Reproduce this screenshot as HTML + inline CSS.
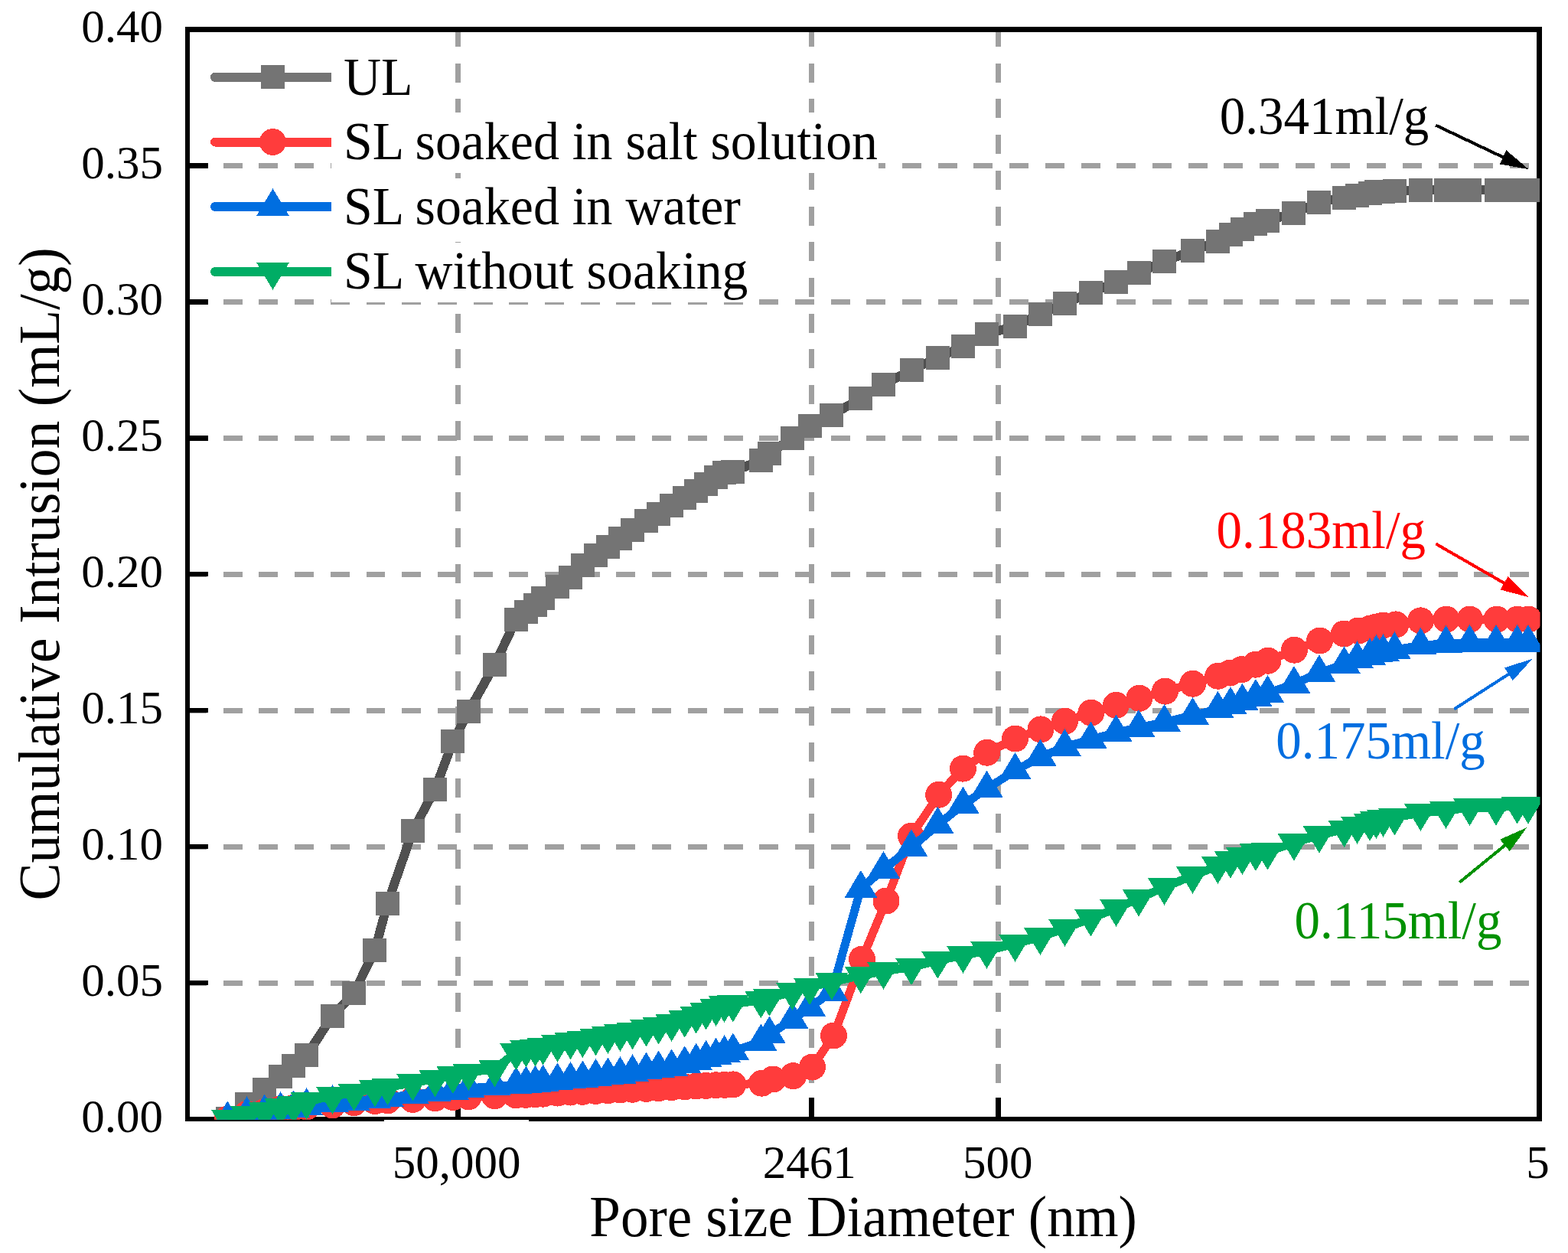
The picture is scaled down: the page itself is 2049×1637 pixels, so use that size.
<!DOCTYPE html>
<html><head><meta charset="utf-8"><title>Cumulative Intrusion vs Pore size Diameter</title>
<style>html,body{margin:0;padding:0;background:#fff;}body{width:2049px;height:1637px;overflow:hidden;}svg{display:block;}text{font-family:'Liberation Serif', 'Times New Roman', serif;}</style>
</head><body>
<svg width="2049" height="1637" viewBox="0 0 2049 1637" shape-rendering="crispEdges">
<defs><clipPath id="pc"><rect x="245" y="38.5" width="1767.5" height="1424.3"/></clipPath></defs>
<rect x="0" y="0" width="2049" height="1637" fill="#fff"/>
<g stroke="#a0a0a0" stroke-width="6.8" stroke-dasharray="25 21.7" fill="none">
<line x1="245" y1="1284.1" x2="2011.5" y2="1284.1"/>
<line x1="245" y1="1106.1" x2="2011.5" y2="1106.1"/>
<line x1="245" y1="928.2" x2="2011.5" y2="928.2"/>
<line x1="245" y1="750.2" x2="2011.5" y2="750.2"/>
<line x1="245" y1="572.3" x2="2011.5" y2="572.3"/>
<line x1="245" y1="394.4" x2="2011.5" y2="394.4"/>
<line x1="245" y1="216.4" x2="2011.5" y2="216.4"/>
<line x1="598.3" y1="1462" x2="598.3" y2="38.5"/>
<line x1="1060.4" y1="1462" x2="1060.4" y2="38.5"/>
<line x1="1304.6" y1="1462" x2="1304.6" y2="38.5"/>
</g>
<g fill="#fff">
<rect x="433" y="63.6" width="108" height="78.5"/>
<rect x="433" y="147.3" width="715" height="78.5"/>
<rect x="433" y="232.8" width="535" height="78.5"/>
<rect x="433" y="316.6" width="544" height="78.5"/>
</g>
<rect x="245" y="38.5" width="1766.5" height="1423.5" fill="none" stroke="#000" stroke-width="6.5"/>
<g stroke="#000" stroke-width="6.5">
<line x1="245" y1="1284.1" x2="272" y2="1284.1"/>
<line x1="245" y1="1106.1" x2="272" y2="1106.1"/>
<line x1="245" y1="928.2" x2="272" y2="928.2"/>
<line x1="245" y1="750.2" x2="272" y2="750.2"/>
<line x1="245" y1="572.3" x2="272" y2="572.3"/>
<line x1="245" y1="394.4" x2="272" y2="394.4"/>
<line x1="245" y1="216.4" x2="272" y2="216.4"/>
</g>
<g stroke="#000" stroke-width="7">
<line x1="598.3" y1="1462" x2="598.3" y2="1434"/>
<line x1="1060.4" y1="1462" x2="1060.4" y2="1434"/>
<line x1="1304.6" y1="1462" x2="1304.6" y2="1434"/>
</g>
<rect x="502" y="1463" width="189" height="8" fill="#fff"/>
<g clip-path="url(#pc)">
<polyline points="297.3,1461.3 322.5,1442.5 345.6,1423.5 366.6,1406.9 383.7,1392 400.6,1378.8 434.5,1327.5 462.6,1297.2 489.9,1241.5 506.5,1180 539.5,1085.3 568.5,1031.2 591.9,968.9 612.3,929.5 646.5,868.4 674.4,809.4 687.4,799.3 699.5,790.6 709.6,781.6 728.5,766.4 745.5,754.5 761.4,738.5 778.5,725.5 794.4,714.5 810.4,703.5 826.5,692.5 844.5,680.4 860.6,671.4 877.6,660.4 894.7,650.4 909.7,641.6 922.6,632.6 935.6,623.6 946.6,617.5 957.8,616.5 994.4,601 1005.4,592.4 1035.4,572.3 1058,556.4 1086.9,542.4 1124.9,520.5 1154.5,502 1191,483.5 1225.4,467.4 1258.5,452.5 1289.5,436 1326.5,426.5 1359.4,410.4 1391.5,396.5 1425.4,382.3 1458.5,368.5 1488,356.5 1521.5,341.4 1558.5,327.4 1591.4,315.5 1608,306.5 1623.4,299.5 1640.9,292.5 1656.5,288.4 1690.9,278.4 1723.9,264.4 1756.6,258.1 1773.5,255.4 1790,252.4 1798.4,250.4 1807.5,250.2 1822.4,249.9 1856.4,248.4 1889.5,248.4 1920.5,248.4 1955,248.4 1982.6,248.4 1996.9,248.4" fill="none" stroke="#505050" stroke-width="12" stroke-linejoin="round"/>
<g fill="#747474"><rect x="281.8" y="1445.8" width="31" height="31"/><rect x="307" y="1427" width="31" height="31"/><rect x="330.1" y="1408" width="31" height="31"/><rect x="351.1" y="1391.4" width="31" height="31"/><rect x="368.2" y="1376.5" width="31" height="31"/><rect x="385.1" y="1363.3" width="31" height="31"/><rect x="419" y="1312" width="31" height="31"/><rect x="447.1" y="1281.7" width="31" height="31"/><rect x="474.4" y="1226" width="31" height="31"/><rect x="491" y="1164.5" width="31" height="31"/><rect x="524" y="1069.8" width="31" height="31"/><rect x="553" y="1015.7" width="31" height="31"/><rect x="576.4" y="953.4" width="31" height="31"/><rect x="596.8" y="914" width="31" height="31"/><rect x="631" y="852.9" width="31" height="31"/><rect x="658.9" y="793.9" width="31" height="31"/><rect x="671.9" y="783.8" width="31" height="31"/><rect x="684" y="775.1" width="31" height="31"/><rect x="694.1" y="766.1" width="31" height="31"/><rect x="713" y="750.9" width="31" height="31"/><rect x="730" y="739" width="31" height="31"/><rect x="745.9" y="723" width="31" height="31"/><rect x="763" y="710" width="31" height="31"/><rect x="778.9" y="699" width="31" height="31"/><rect x="794.9" y="688" width="31" height="31"/><rect x="811" y="677" width="31" height="31"/><rect x="829" y="664.9" width="31" height="31"/><rect x="845.1" y="655.9" width="31" height="31"/><rect x="862.1" y="644.9" width="31" height="31"/><rect x="879.2" y="634.9" width="31" height="31"/><rect x="894.2" y="626.1" width="31" height="31"/><rect x="907.1" y="617.1" width="31" height="31"/><rect x="920.1" y="608.1" width="31" height="31"/><rect x="931.1" y="602" width="31" height="31"/><rect x="942.3" y="601" width="31" height="31"/><rect x="978.9" y="585.5" width="31" height="31"/><rect x="989.9" y="576.9" width="31" height="31"/><rect x="1019.9" y="556.8" width="31" height="31"/><rect x="1042.5" y="540.9" width="31" height="31"/><rect x="1071.4" y="526.9" width="31" height="31"/><rect x="1109.4" y="505" width="31" height="31"/><rect x="1139" y="486.5" width="31" height="31"/><rect x="1175.5" y="468" width="31" height="31"/><rect x="1209.9" y="451.9" width="31" height="31"/><rect x="1243" y="437" width="31" height="31"/><rect x="1274" y="420.5" width="31" height="31"/><rect x="1311" y="411" width="31" height="31"/><rect x="1343.9" y="394.9" width="31" height="31"/><rect x="1376" y="381" width="31" height="31"/><rect x="1409.9" y="366.8" width="31" height="31"/><rect x="1443" y="353" width="31" height="31"/><rect x="1472.5" y="341" width="31" height="31"/><rect x="1506" y="325.9" width="31" height="31"/><rect x="1543" y="311.9" width="31" height="31"/><rect x="1575.9" y="300" width="31" height="31"/><rect x="1592.5" y="291" width="31" height="31"/><rect x="1607.9" y="284" width="31" height="31"/><rect x="1625.4" y="277" width="31" height="31"/><rect x="1641" y="272.9" width="31" height="31"/><rect x="1675.4" y="262.9" width="31" height="31"/><rect x="1708.4" y="248.9" width="31" height="31"/><rect x="1741.1" y="242.6" width="31" height="31"/><rect x="1758" y="239.9" width="31" height="31"/><rect x="1774.5" y="236.9" width="31" height="31"/><rect x="1782.9" y="234.9" width="31" height="31"/><rect x="1792" y="234.7" width="31" height="31"/><rect x="1806.9" y="234.4" width="31" height="31"/><rect x="1840.9" y="232.9" width="31" height="31"/><rect x="1874" y="232.9" width="31" height="31"/><rect x="1905" y="232.9" width="31" height="31"/><rect x="1939.5" y="232.9" width="31" height="31"/><rect x="1967.1" y="232.9" width="31" height="31"/><rect x="1981.4" y="232.9" width="31" height="31"/></g>
<polyline points="297.3,1462 322.5,1455.5 345.6,1452.5 366.6,1448.5 383.7,1447.2 400.6,1446 434.5,1443.9 462.6,1440.6 489.9,1438.5 506.5,1437.8 539.5,1436.5 568.5,1434.8 591.9,1433.6 612.3,1432.8 646.5,1431.6 674.4,1430.8 687.4,1430.3 699.5,1429.7 709.6,1429.2 728.5,1428.1 745.5,1427 761.4,1426.3 778.5,1425.5 794.4,1424.7 810.4,1424 826.5,1423.3 844.5,1422.4 860.6,1421.6 877.6,1420.8 894.7,1419.8 909.7,1419 922.6,1418.4 935.6,1417.8 946.6,1417.3 957.8,1416.9 995.5,1415.2 1010,1410 1036.5,1405.7 1061.5,1394 1089.4,1353 1126.5,1253 1158,1177 1190.5,1092.4 1226.7,1038.2 1258.4,1004.1 1289.7,983.2 1326.6,965 1360,952.9 1391.6,942.2 1425.8,931.2 1458.5,921.3 1488.9,912.3 1522.5,903.1 1558.7,893.2 1591.7,883.2 1607.5,879 1622.7,874.6 1640.5,868.2 1657,863.2 1691.4,849.2 1724.6,837 1756.3,828 1774.7,824.1 1791,820.9 1799.3,818.9 1807.5,817 1824,815.9 1856.5,810.9 1890,809.1 1920.7,809.1 1956,809.1 1982.9,809.1 1997.5,809.1" fill="none" stroke="#ff3c3c" stroke-width="11" stroke-linejoin="round"/>
<g fill="#ff3c3c"><circle cx="297.3" cy="1462" r="17.5"/><circle cx="322.5" cy="1455.5" r="17.5"/><circle cx="345.6" cy="1452.5" r="17.5"/><circle cx="366.6" cy="1448.5" r="17.5"/><circle cx="383.7" cy="1447.2" r="17.5"/><circle cx="400.6" cy="1446" r="17.5"/><circle cx="434.5" cy="1443.9" r="17.5"/><circle cx="462.6" cy="1440.6" r="17.5"/><circle cx="489.9" cy="1438.5" r="17.5"/><circle cx="506.5" cy="1437.8" r="17.5"/><circle cx="539.5" cy="1436.5" r="17.5"/><circle cx="568.5" cy="1434.8" r="17.5"/><circle cx="591.9" cy="1433.6" r="17.5"/><circle cx="612.3" cy="1432.8" r="17.5"/><circle cx="646.5" cy="1431.6" r="17.5"/><circle cx="674.4" cy="1430.8" r="17.5"/><circle cx="687.4" cy="1430.3" r="17.5"/><circle cx="699.5" cy="1429.7" r="17.5"/><circle cx="709.6" cy="1429.2" r="17.5"/><circle cx="728.5" cy="1428.1" r="17.5"/><circle cx="745.5" cy="1427" r="17.5"/><circle cx="761.4" cy="1426.3" r="17.5"/><circle cx="778.5" cy="1425.5" r="17.5"/><circle cx="794.4" cy="1424.7" r="17.5"/><circle cx="810.4" cy="1424" r="17.5"/><circle cx="826.5" cy="1423.3" r="17.5"/><circle cx="844.5" cy="1422.4" r="17.5"/><circle cx="860.6" cy="1421.6" r="17.5"/><circle cx="877.6" cy="1420.8" r="17.5"/><circle cx="894.7" cy="1419.8" r="17.5"/><circle cx="909.7" cy="1419" r="17.5"/><circle cx="922.6" cy="1418.4" r="17.5"/><circle cx="935.6" cy="1417.8" r="17.5"/><circle cx="946.6" cy="1417.3" r="17.5"/><circle cx="957.8" cy="1416.9" r="17.5"/><circle cx="995.5" cy="1415.2" r="17.5"/><circle cx="1010" cy="1410" r="17.5"/><circle cx="1036.5" cy="1405.7" r="17.5"/><circle cx="1061.5" cy="1394" r="17.5"/><circle cx="1089.4" cy="1353" r="17.5"/><circle cx="1126.5" cy="1253" r="17.5"/><circle cx="1158" cy="1177" r="17.5"/><circle cx="1190.5" cy="1092.4" r="17.5"/><circle cx="1226.7" cy="1038.2" r="17.5"/><circle cx="1258.4" cy="1004.1" r="17.5"/><circle cx="1289.7" cy="983.2" r="17.5"/><circle cx="1326.6" cy="965" r="17.5"/><circle cx="1360" cy="952.9" r="17.5"/><circle cx="1391.6" cy="942.2" r="17.5"/><circle cx="1425.8" cy="931.2" r="17.5"/><circle cx="1458.5" cy="921.3" r="17.5"/><circle cx="1488.9" cy="912.3" r="17.5"/><circle cx="1522.5" cy="903.1" r="17.5"/><circle cx="1558.7" cy="893.2" r="17.5"/><circle cx="1591.7" cy="883.2" r="17.5"/><circle cx="1607.5" cy="879" r="17.5"/><circle cx="1622.7" cy="874.6" r="17.5"/><circle cx="1640.5" cy="868.2" r="17.5"/><circle cx="1657" cy="863.2" r="17.5"/><circle cx="1691.4" cy="849.2" r="17.5"/><circle cx="1724.6" cy="837" r="17.5"/><circle cx="1756.3" cy="828" r="17.5"/><circle cx="1774.7" cy="824.1" r="17.5"/><circle cx="1791" cy="820.9" r="17.5"/><circle cx="1799.3" cy="818.9" r="17.5"/><circle cx="1807.5" cy="817" r="17.5"/><circle cx="1824" cy="815.9" r="17.5"/><circle cx="1856.5" cy="810.9" r="17.5"/><circle cx="1890" cy="809.1" r="17.5"/><circle cx="1920.7" cy="809.1" r="17.5"/><circle cx="1956" cy="809.1" r="17.5"/><circle cx="1982.9" cy="809.1" r="17.5"/><circle cx="1997.5" cy="809.1" r="17.5"/></g>
<polyline points="297.3,1462 322.5,1455.9 345.6,1453.1 366.6,1449.9 383.7,1448 400.6,1445 434.5,1440.8 462.6,1439.2 489.9,1436 506.5,1434 539.5,1430 568.5,1427.5 591.9,1425 612.3,1422 646.5,1419.2 674.4,1417.2 687.4,1416.3 699.5,1415.5 709.6,1414.5 728.5,1412.2 745.5,1410.6 761.4,1409.1 778.5,1406.8 794.4,1405.1 810.4,1403.9 826.5,1401 844.5,1398.2 860.6,1396.1 877.6,1394.1 894.7,1390 909.7,1386.5 922.6,1382.5 935.6,1379.4 946.6,1376 957.8,1373.1 994.4,1361.2 1005.4,1351.3 1035.4,1332.4 1058,1316.2 1086.9,1295.8 1124.9,1160.8 1154.5,1135.8 1191,1107 1225.4,1077.6 1258.5,1051.3 1289.5,1030.5 1326.5,1006.6 1359.4,989.1 1391.5,975.9 1425.4,966.1 1458.5,957.2 1488,950.7 1521.5,943.7 1558.5,934.8 1591.4,926.5 1608,920.8 1623.4,916.4 1640.9,910.7 1656.5,905.7 1690.9,893.7 1723.9,879.1 1756.6,868 1773.5,861 1790,857 1798.4,852.8 1807.5,852 1822.4,849 1856.4,843.4 1889.5,840.7 1920.5,839.8 1955,839.8 1982.6,839.8 1996.9,839.8" fill="none" stroke="#006ee0" stroke-width="11" stroke-linejoin="round"/>
<g fill="#006ee0"><polygon points="297.3,1438.3 276.1,1473.8 318.6,1473.8"/><polygon points="322.5,1432.2 301.2,1467.7 343.8,1467.7"/><polygon points="345.6,1429.4 324.4,1464.9 366.9,1464.9"/><polygon points="366.6,1426.2 345.4,1461.7 387.9,1461.7"/><polygon points="383.7,1424.3 362.4,1459.8 404.9,1459.8"/><polygon points="400.6,1421.3 379.4,1456.8 421.9,1456.8"/><polygon points="434.5,1417.1 413.2,1452.6 455.8,1452.6"/><polygon points="462.6,1415.5 441.4,1451 483.9,1451"/><polygon points="489.9,1412.3 468.6,1447.8 511.1,1447.8"/><polygon points="506.5,1410.3 485.2,1445.8 527.8,1445.8"/><polygon points="539.5,1406.3 518.2,1441.8 560.8,1441.8"/><polygon points="568.5,1403.8 547.2,1439.3 589.8,1439.3"/><polygon points="591.9,1401.3 570.6,1436.8 613.1,1436.8"/><polygon points="612.3,1398.3 591,1433.8 633.5,1433.8"/><polygon points="646.5,1395.5 625.2,1431 667.8,1431"/><polygon points="674.4,1393.5 653.1,1429 695.6,1429"/><polygon points="687.4,1392.6 666.1,1428.1 708.6,1428.1"/><polygon points="699.5,1391.8 678.2,1427.3 720.8,1427.3"/><polygon points="709.6,1390.8 688.4,1426.3 730.9,1426.3"/><polygon points="728.5,1388.5 707.2,1424 749.8,1424"/><polygon points="745.5,1386.9 724.2,1422.4 766.8,1422.4"/><polygon points="761.4,1385.4 740.1,1420.9 782.6,1420.9"/><polygon points="778.5,1383.1 757.2,1418.6 799.8,1418.6"/><polygon points="794.4,1381.4 773.1,1416.9 815.6,1416.9"/><polygon points="810.4,1380.2 789.1,1415.7 831.6,1415.7"/><polygon points="826.5,1377.3 805.2,1412.8 847.8,1412.8"/><polygon points="844.5,1374.5 823.2,1410 865.8,1410"/><polygon points="860.6,1372.4 839.4,1407.9 881.9,1407.9"/><polygon points="877.6,1370.4 856.4,1405.9 898.9,1405.9"/><polygon points="894.7,1366.3 873.5,1401.8 916,1401.8"/><polygon points="909.7,1362.8 888.5,1398.3 931,1398.3"/><polygon points="922.6,1358.8 901.4,1394.3 943.9,1394.3"/><polygon points="935.6,1355.7 914.4,1391.2 956.9,1391.2"/><polygon points="946.6,1352.3 925.4,1387.8 967.9,1387.8"/><polygon points="957.8,1349.4 936.5,1384.9 979,1384.9"/><polygon points="994.4,1337.5 973.1,1373 1015.6,1373"/><polygon points="1005.4,1327.6 984.1,1363.1 1026.7,1363.1"/><polygon points="1035.4,1308.7 1014.2,1344.2 1056.7,1344.2"/><polygon points="1058,1292.5 1036.8,1328 1079.2,1328"/><polygon points="1086.9,1272.1 1065.7,1307.6 1108.2,1307.6"/><polygon points="1124.9,1137.1 1103.7,1172.6 1146.2,1172.6"/><polygon points="1154.5,1112.1 1133.2,1147.6 1175.8,1147.6"/><polygon points="1191,1083.3 1169.8,1118.8 1212.2,1118.8"/><polygon points="1225.4,1053.9 1204.2,1089.4 1246.7,1089.4"/><polygon points="1258.5,1027.6 1237.2,1063.1 1279.8,1063.1"/><polygon points="1289.5,1006.8 1268.2,1042.3 1310.8,1042.3"/><polygon points="1326.5,982.9 1305.2,1018.4 1347.8,1018.4"/><polygon points="1359.4,965.4 1338.2,1000.9 1380.7,1000.9"/><polygon points="1391.5,952.2 1370.2,987.7 1412.8,987.7"/><polygon points="1425.4,942.4 1404.2,977.9 1446.7,977.9"/><polygon points="1458.5,933.5 1437.2,969 1479.8,969"/><polygon points="1488,927 1466.8,962.5 1509.2,962.5"/><polygon points="1521.5,920 1500.2,955.5 1542.8,955.5"/><polygon points="1558.5,911.1 1537.2,946.6 1579.8,946.6"/><polygon points="1591.4,902.8 1570.2,938.3 1612.7,938.3"/><polygon points="1608,897.1 1586.8,932.6 1629.2,932.6"/><polygon points="1623.4,892.7 1602.2,928.2 1644.7,928.2"/><polygon points="1640.9,887 1619.7,922.5 1662.2,922.5"/><polygon points="1656.5,882 1635.2,917.5 1677.8,917.5"/><polygon points="1690.9,870 1669.7,905.5 1712.2,905.5"/><polygon points="1723.9,855.4 1702.7,890.9 1745.2,890.9"/><polygon points="1756.6,844.3 1735.3,879.8 1777.8,879.8"/><polygon points="1773.5,837.3 1752.2,872.8 1794.8,872.8"/><polygon points="1790,833.3 1768.8,868.8 1811.2,868.8"/><polygon points="1798.4,829.1 1777.2,864.6 1819.7,864.6"/><polygon points="1807.5,828.3 1786.2,863.8 1828.8,863.8"/><polygon points="1822.4,825.3 1801.2,860.8 1843.7,860.8"/><polygon points="1856.4,819.7 1835.2,855.2 1877.7,855.2"/><polygon points="1889.5,817 1868.2,852.5 1910.8,852.5"/><polygon points="1920.5,816.1 1899.2,851.6 1941.8,851.6"/><polygon points="1955,816.1 1933.8,851.6 1976.2,851.6"/><polygon points="1982.6,816.1 1961.3,851.6 2003.8,851.6"/><polygon points="1996.9,816.1 1975.7,851.6 2018.2,851.6"/></g>
<polyline points="297.3,1461.9 322.5,1457 345.6,1451.8 366.6,1446.9 383.7,1444 400.6,1439 434.5,1432 462.6,1427.7 489.9,1422.7 506.5,1420.4 539.5,1414.8 568.5,1409.5 591.9,1405.2 612.3,1401.4 646.5,1396.5 674.4,1374.9 687.4,1370.8 699.5,1369.7 709.6,1367.9 728.5,1364 745.5,1360.5 761.4,1358.3 778.5,1355.5 794.4,1353.2 810.4,1350.1 826.5,1347.7 844.5,1343.8 860.6,1340.7 877.6,1337 894.7,1332 909.7,1326.8 922.6,1321.8 935.6,1317 946.6,1312.3 957.8,1311.8 994.4,1306.6 1005.4,1304 1035.4,1296 1058,1289.4 1086.9,1283 1124.9,1274.5 1154.5,1269 1191,1263.4 1225.4,1255 1258.5,1248 1289.5,1242.1 1326.5,1233 1359.4,1224.2 1391.5,1213 1425.4,1199.8 1458.5,1186.9 1488,1173.8 1521.5,1159.1 1558.5,1144.1 1591.4,1131.2 1608,1124 1623.4,1119.1 1640.9,1114.2 1656.5,1112.8 1690.9,1101.1 1723.9,1091 1756.6,1083.5 1773.5,1079 1790,1075.1 1798.4,1072.2 1807.5,1070.1 1822.4,1067.9 1856.4,1062.1 1889.5,1059.1 1920.5,1055.2 1955,1055 1982.6,1052.9 1996.9,1052.9" fill="none" stroke="#00ad65" stroke-width="11" stroke-linejoin="round"/>
<g fill="#00ad65"><polygon points="276.1,1450.1 318.6,1450.1 297.3,1485.6"/><polygon points="301.2,1445.2 343.8,1445.2 322.5,1480.7"/><polygon points="324.4,1440 366.9,1440 345.6,1475.5"/><polygon points="345.4,1435.1 387.9,1435.1 366.6,1470.6"/><polygon points="362.4,1432.2 404.9,1432.2 383.7,1467.7"/><polygon points="379.4,1427.2 421.9,1427.2 400.6,1462.7"/><polygon points="413.2,1420.2 455.8,1420.2 434.5,1455.7"/><polygon points="441.4,1415.9 483.9,1415.9 462.6,1451.4"/><polygon points="468.6,1410.9 511.1,1410.9 489.9,1446.4"/><polygon points="485.2,1408.6 527.8,1408.6 506.5,1444.1"/><polygon points="518.2,1403 560.8,1403 539.5,1438.5"/><polygon points="547.2,1397.7 589.8,1397.7 568.5,1433.2"/><polygon points="570.6,1393.4 613.1,1393.4 591.9,1428.9"/><polygon points="591,1389.6 633.5,1389.6 612.3,1425.1"/><polygon points="625.2,1384.7 667.8,1384.7 646.5,1420.2"/><polygon points="653.1,1363.1 695.6,1363.1 674.4,1398.6"/><polygon points="666.1,1359 708.6,1359 687.4,1394.5"/><polygon points="678.2,1357.9 720.8,1357.9 699.5,1393.4"/><polygon points="688.4,1356.1 730.9,1356.1 709.6,1391.6"/><polygon points="707.2,1352.2 749.8,1352.2 728.5,1387.7"/><polygon points="724.2,1348.7 766.8,1348.7 745.5,1384.2"/><polygon points="740.1,1346.5 782.6,1346.5 761.4,1382"/><polygon points="757.2,1343.7 799.8,1343.7 778.5,1379.2"/><polygon points="773.1,1341.4 815.6,1341.4 794.4,1376.9"/><polygon points="789.1,1338.3 831.6,1338.3 810.4,1373.8"/><polygon points="805.2,1335.9 847.8,1335.9 826.5,1371.4"/><polygon points="823.2,1332 865.8,1332 844.5,1367.5"/><polygon points="839.4,1328.9 881.9,1328.9 860.6,1364.4"/><polygon points="856.4,1325.2 898.9,1325.2 877.6,1360.7"/><polygon points="873.5,1320.2 916,1320.2 894.7,1355.7"/><polygon points="888.5,1315 931,1315 909.7,1350.5"/><polygon points="901.4,1310 943.9,1310 922.6,1345.5"/><polygon points="914.4,1305.2 956.9,1305.2 935.6,1340.7"/><polygon points="925.4,1300.5 967.9,1300.5 946.6,1336"/><polygon points="936.5,1300 979,1300 957.8,1335.5"/><polygon points="973.1,1294.8 1015.6,1294.8 994.4,1330.3"/><polygon points="984.1,1292.2 1026.7,1292.2 1005.4,1327.7"/><polygon points="1014.2,1284.2 1056.7,1284.2 1035.4,1319.7"/><polygon points="1036.8,1277.6 1079.2,1277.6 1058,1313.1"/><polygon points="1065.7,1271.2 1108.2,1271.2 1086.9,1306.7"/><polygon points="1103.7,1262.7 1146.2,1262.7 1124.9,1298.2"/><polygon points="1133.2,1257.2 1175.8,1257.2 1154.5,1292.7"/><polygon points="1169.8,1251.6 1212.2,1251.6 1191,1287.1"/><polygon points="1204.2,1243.2 1246.7,1243.2 1225.4,1278.7"/><polygon points="1237.2,1236.2 1279.8,1236.2 1258.5,1271.7"/><polygon points="1268.2,1230.3 1310.8,1230.3 1289.5,1265.8"/><polygon points="1305.2,1221.2 1347.8,1221.2 1326.5,1256.7"/><polygon points="1338.2,1212.4 1380.7,1212.4 1359.4,1247.9"/><polygon points="1370.2,1201.2 1412.8,1201.2 1391.5,1236.7"/><polygon points="1404.2,1188 1446.7,1188 1425.4,1223.5"/><polygon points="1437.2,1175.1 1479.8,1175.1 1458.5,1210.6"/><polygon points="1466.8,1162 1509.2,1162 1488,1197.5"/><polygon points="1500.2,1147.3 1542.8,1147.3 1521.5,1182.8"/><polygon points="1537.2,1132.3 1579.8,1132.3 1558.5,1167.8"/><polygon points="1570.2,1119.4 1612.7,1119.4 1591.4,1154.9"/><polygon points="1586.8,1112.2 1629.2,1112.2 1608,1147.7"/><polygon points="1602.2,1107.3 1644.7,1107.3 1623.4,1142.8"/><polygon points="1619.7,1102.4 1662.2,1102.4 1640.9,1137.9"/><polygon points="1635.2,1101 1677.8,1101 1656.5,1136.5"/><polygon points="1669.7,1089.3 1712.2,1089.3 1690.9,1124.8"/><polygon points="1702.7,1079.2 1745.2,1079.2 1723.9,1114.7"/><polygon points="1735.3,1071.7 1777.8,1071.7 1756.6,1107.2"/><polygon points="1752.2,1067.2 1794.8,1067.2 1773.5,1102.7"/><polygon points="1768.8,1063.3 1811.2,1063.3 1790,1098.8"/><polygon points="1777.2,1060.4 1819.7,1060.4 1798.4,1095.9"/><polygon points="1786.2,1058.3 1828.8,1058.3 1807.5,1093.8"/><polygon points="1801.2,1056.1 1843.7,1056.1 1822.4,1091.6"/><polygon points="1835.2,1050.3 1877.7,1050.3 1856.4,1085.8"/><polygon points="1868.2,1047.3 1910.8,1047.3 1889.5,1082.8"/><polygon points="1899.2,1043.4 1941.8,1043.4 1920.5,1078.9"/><polygon points="1933.8,1043.2 1976.2,1043.2 1955,1078.7"/><polygon points="1961.3,1041.1 2003.8,1041.1 1982.6,1076.6"/><polygon points="1975.7,1041.1 2018.2,1041.1 1996.9,1076.6"/></g>
</g>
<line x1="281" y1="100.9" x2="427" y2="100.9" stroke="#747474" stroke-width="12" stroke-linecap="round"/>
<rect x="427" y="94.9" width="6" height="12" fill="#747474"/>
<g fill="#747474"><rect x="341" y="85.4" width="31" height="31"/></g>
<line x1="281" y1="185.5" x2="427" y2="185.5" stroke="#ff3c3c" stroke-width="12" stroke-linecap="round"/>
<rect x="427" y="179.5" width="6" height="12" fill="#ff3c3c"/>
<g fill="#ff3c3c"><circle cx="356.5" cy="185.5" r="17.5"/></g>
<line x1="281" y1="270" x2="427" y2="270" stroke="#006ee0" stroke-width="12" stroke-linecap="round"/>
<rect x="427" y="264" width="6" height="12" fill="#006ee0"/>
<g fill="#006ee0"><polygon points="356.5,246.3 335.2,281.8 377.8,281.8"/></g>
<line x1="281" y1="355" x2="427" y2="355" stroke="#00ad65" stroke-width="12" stroke-linecap="round"/>
<rect x="427" y="349" width="6" height="12" fill="#00ad65"/>
<g fill="#00ad65"><polygon points="335.2,343.2 377.8,343.2 356.5,378.7"/></g>
<g font-size="67.8" fill="#000">
<text transform="translate(449,124.1) scale(1,1.03)">UL</text>
<text transform="translate(449,207.8) scale(1,1.03)">SL soaked in salt solution</text>
<text transform="translate(449,293.3) scale(1,1.03)">SL soaked in water</text>
<text transform="translate(449,377.1) scale(1,1.03)">SL without soaking</text>
</g>
<g font-size="61" fill="#000" text-anchor="end">
<text transform="translate(213,1478.7) scale(1,1.02)">0.00</text>
<text transform="translate(213,1300.8) scale(1,1.02)">0.05</text>
<text transform="translate(213,1122.8) scale(1,1.02)">0.10</text>
<text transform="translate(213,944.9) scale(1,1.02)">0.15</text>
<text transform="translate(213,767) scale(1,1.02)">0.20</text>
<text transform="translate(213,589) scale(1,1.02)">0.25</text>
<text transform="translate(213,411.1) scale(1,1.02)">0.30</text>
<text transform="translate(213,233.1) scale(1,1.02)">0.35</text>
<text transform="translate(213,55.2) scale(1,1.02)">0.40</text>
</g>
<g font-size="61" fill="#000" text-anchor="middle">
<text transform="translate(596.6,1539.3) scale(1,1.02)">50,000</text>
<text transform="translate(1057.7,1539.3) scale(1,1.02)">2461</text>
<text transform="translate(1303.7,1539.3) scale(1,1.02)">500</text>
<text transform="translate(2009.6,1539.3) scale(1,1.02)">5</text>
</g>
<text transform="translate(770.3,1614.6) scale(1,1.03)" font-size="73" fill="#000">Pore size Diameter (nm)</text>
<text transform="translate(77,749.8) rotate(-90) scale(1,1.03)" text-anchor="middle" font-size="73.5" fill="#000">Cumulative Intrusion (mL/g)</text>
<text transform="translate(1593.7,175.1) scale(1,1.03)" font-size="67" fill="#000">0.341ml/g</text>
<line x1="1876.3" y1="163.7" x2="1967.8" y2="207.1" stroke="#000" stroke-width="4" stroke-linecap="butt"/>
<polygon points="1997.6,221.2 1959.9,214.4 1968.4,196.3" fill="#000"/>
<text transform="translate(1589.5,715.8) scale(1,1.03)" font-size="67" fill="#ff0000">0.183ml/g</text>
<line x1="1876.3" y1="710.5" x2="1969" y2="763.8" stroke="#ff0000" stroke-width="4" stroke-linecap="butt"/>
<polygon points="1997.6,780.2 1960.5,770.4 1970.5,753.1" fill="#ff0000"/>
<text transform="translate(1667.2,991.3) scale(1,1.03)" font-size="67" fill="#006ee0">0.175ml/g</text>
<line x1="1900.4" y1="926.4" x2="1974.6" y2="878.7" stroke="#006ee0" stroke-width="4" stroke-linecap="butt"/>
<polygon points="2002.4,860.8 1976.7,889.2 1965.9,872.4" fill="#006ee0"/>
<text transform="translate(1691.4,1225.8) scale(1,1.03)" font-size="67" fill="#009100">0.115ml/g</text>
<line x1="1907.2" y1="1152.8" x2="1969.6" y2="1101.9" stroke="#009100" stroke-width="4" stroke-linecap="butt"/>
<polygon points="1995.2,1081.1 1972.8,1112.2 1960.2,1096.7" fill="#009100"/>
</svg></body></html>
